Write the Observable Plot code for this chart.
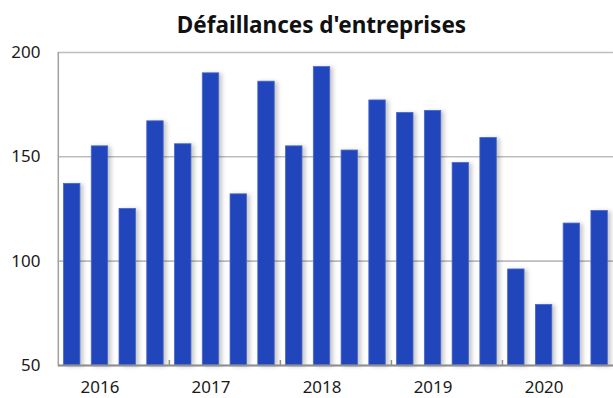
<!DOCTYPE html>
<html>
<head>
<meta charset="utf-8">
<script src="https://cdn.jsdelivr.net/npm/d3@7"></script>
<script src="https://cdn.jsdelivr.net/npm/@observablehq/plot@0.6"></script>
<style>
  html, body { margin: 0; padding: 0; background: #fff; overflow: hidden; }
  #title { box-sizing: border-box; height: 44px; width: 613px; padding-left: 30px; text-align: center;
           font-family: "Noto Sans", sans-serif; font-weight: bold; font-size: 22.5px; line-height: 50px; color: #111; }
  #chart svg { display: block; }
</style>
</head>
<body>
<div id="title">Défaillances d'entreprises</div>
<div id="chart"></div>
<script>
// Data
const years = [2016, 2017, 2018, 2019, 2020];
const quarters = [1, 2, 3, 4];
const values = [137, 155, 125, 167, 156, 190, 132, 186, 155, 193, 153, 177, 171, 172, 147, 159, 96, 79, 118, 124];
const yTicks = [50, 100, 150, 200];
const Y_MIN = 50, Y_MAX = 200;

const rows = values.map((v, i) => ({
  i,
  year: years[Math.floor(i / 4)],
  q: quarters[i % 4],
  value: v
}));
const yearBoundaries = rows.filter(d => d.q === 1 && d.i > 0).map(d => d.i);
const labelRows = rows.filter(d => d.q === 2);

const font = "'Noto Sans', sans-serif";

const plot = Plot.plot({
  width: 615,
  height: 354,
  marginLeft: 58,
  marginRight: 0,
  marginTop: 8,
  marginBottom: 32,
  style: { fontFamily: font, background: "#fff", overflow: "visible" },
  x: { domain: [0, values.length], axis: null },
  y: { domain: [Y_MIN, Y_MAX], axis: null },
  marks: [
    Plot.gridY(yTicks, { stroke: "#bdbdbd", strokeOpacity: 1, strokeWidth: 1.6 }),
    Plot.rectY(rows, {
      x: "i", interval: 1, y1: Y_MIN, y2: "value",
      insetLeft: 5.7, insetRight: 5.7,
      fill: "#2146bb", stroke: "#4767cc", strokeWidth: 0.8
    }),
    Plot.ruleX([0], { y1: Y_MIN, y2: Y_MAX, stroke: "#a0a0a0", strokeWidth: 1.5 }),
    Plot.ruleY([Y_MIN], { stroke: "#8f8f8f", strokeWidth: 2 }),
    Plot.ruleX(yearBoundaries, { x: d => d, y1: Y_MIN, y2: Y_MIN + 2.4, stroke: "#8f8f8f", strokeWidth: 1.5 }),
    Plot.axisY(yTicks, { tickSize: 0, tickPadding: 18, fontSize: 17, fill: "#1a1a1a", label: null }),
    Plot.text(labelRows, {
      x: d => d.i + 0.5, y: Y_MIN, text: d => String(d.year),
      dy: 22, fontSize: 17, fill: "#1a1a1a", lineAnchor: "middle"
    })
  ]
});

const rectG = plot.querySelector('g[aria-label="rect"]');
if (rectG) rectG.style.filter = "drop-shadow(3px 1px 2px rgba(0,0,0,0.22))";

document.getElementById("chart").appendChild(plot);
</script>
</body>
</html>
